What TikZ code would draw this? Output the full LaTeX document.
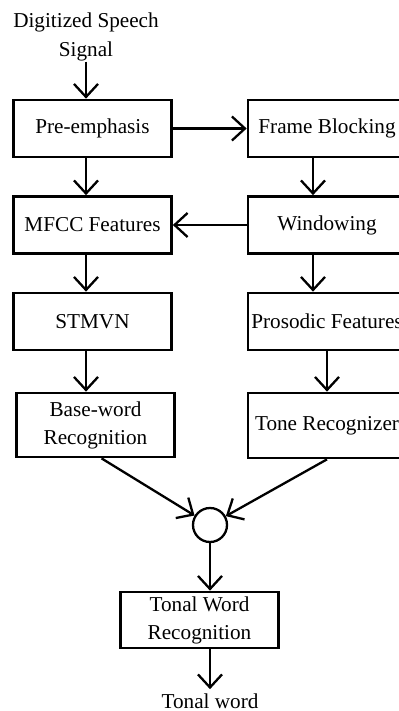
\documentclass[tikz,border=0pt]{standalone}
\usepackage{fontspec}
\setmainfont{Liberation Serif}
\usetikzlibrary{arrows.meta,shapes,positioning}

\begin{document}
\begin{tikzpicture}[x=0.5pt,y=-0.5pt,
    caja/.style={draw, line width=1.35pt, minimum width=79pt, minimum height=28.5pt,
        inner sep=1pt, align=center, font=\fontsize{10.6}{14}\selectfont},
    texto/.style={inner sep=0pt, align=center, font=\fontsize{10.6}{14.5}\selectfont},
    flecha/.style={line width=1.15pt, -{Straight Barb[length=6.5pt,width=12pt,line width=1.15pt]}}]
        \useasboundingbox (0,0) rectangle (399,711);
        \clip (0,0) rectangle (399,711);

        % Entrada
        \node[texto] (entrada) at (86,37) {Digitized Speech\\Signal};

        % Rama izquierda
        \node[caja] (pre) at (92.5,128.5) {Pre-emphasis};
        \node[caja] (mfcc) at (92.5,225) {MFCC Features};
        \node[caja] (stmvn) at (92.5,321.5) {STMVN};
        \node[caja, minimum height=32pt] (base) at (95.5,425) {Base-word\\Recognition};

        % Rama derecha
        \node[caja] (frame) at (327,128.5) {Frame Blocking};
        \node[caja] (win) at (327,225) {Windowing};
        \node[caja] (pros) at (327,321.5) {Prosodic Features};
        \node[caja, minimum height=32.5pt] (tone) at (327,425.5) {Tone Recognizer};

        % Combinación y salida
        \node[circle, draw, line width=1.15pt, minimum size=17pt, inner sep=0pt] (suma) at (210,525) {};
        \node[caja, minimum height=28pt] (tonal) at (199.5,620) {Tonal Word\\Recognition};
        \node[texto, inner sep=2pt] (salida) at (210,701) {Tonal word};

        % Conexiones
        \draw[flecha] (entrada.south) -- (pre.north -| entrada.south);
        \draw[flecha] (pre.east) -- (frame.west);
        \draw[flecha] (pre.south -| entrada.south) -- (mfcc.north -| entrada.south);
        \draw[flecha] ([xshift=-7pt]frame.south) -- ([xshift=-7pt]win.north);
        \draw[flecha] (win.west) -- (mfcc.east);
        \draw[flecha] ([xshift=-7pt]win.south) -- ([xshift=-7pt]pros.north);
        \draw[flecha] (mfcc.south -| entrada.south) -- (stmvn.north -| entrada.south);
        \draw[flecha] (stmvn.south -| entrada.south) -- (base.north -| entrada.south);
        \draw[flecha] (pros.south) -- (tone.north);
        \draw[flecha] ([xshift=3pt]base.south) -- (suma);
        \draw[flecha] (tone.south) -- (suma);
        \draw[flecha] (suma.south) -- (tonal.north -| suma.south);
        \draw[flecha] (tonal.south -| suma.south) -- (salida.north);
    \end{tikzpicture}
\end{document}
